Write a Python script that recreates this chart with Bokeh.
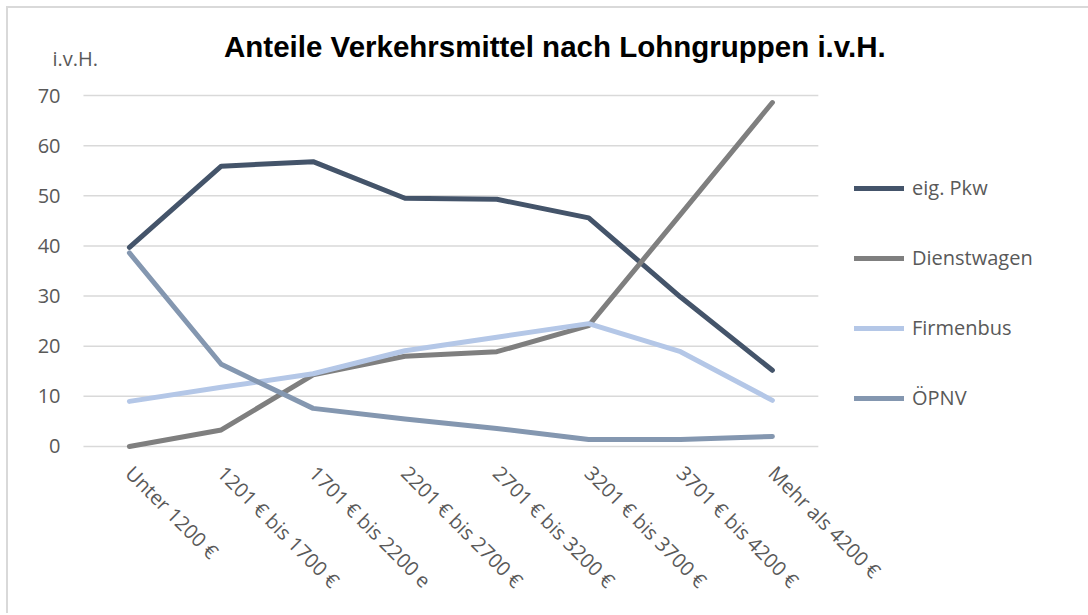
from bokeh.plotting import figure
from bokeh.models import Range1d, Legend, LegendItem, Label, FixedTicker
from bokeh.embed import file_html
from bokeh.resources import INLINE
import math

categories = ["Unter 1200 €", "1201 € bis 1700 €", "1701 € bis 2200 e", "2201 € bis 2700 €",
              "2701 € bis 3200 €", "3201 € bis 3700 €", "3701 € bis 4200 €", "Mehr als 4200 €"]
eig_pkw = [39.7, 55.9, 56.8, 49.5, 49.3, 45.6, 29.8, 15.2]
dienstwagen = [0.0, 3.3, 14.3, 18.0, 18.9, 24.1, 46.3, 68.6]
firmenbus = [9.0, 11.8, 14.5, 19.1, 21.8, 24.5, 18.9, 9.2]
oepnv = [38.6, 16.4, 7.6, 5.5, 3.6, 1.4, 1.4, 2.0]
series_names = ["eig. Pkw", "Dienstwagen", "Firmenbus", "ÖPNV"]
y_ticks = [0, 10, 20, 30, 40, 50, 60, 70]
title_text = "Anteile Verkehrsmittel nach Lohngruppen i.v.H."
unit_text = "i.v.H."

colors = ["#44546A", "#7F7F7F", "#B4C7E7", "#8497B0"]
FONT = "Open Sans"
TXT = "#595959"
GRID = "#D9D9D9"

xs = list(range(len(categories)))

p = figure(x_range=Range1d(-0.968, 10.30), y_range=Range1d(-1.4, 84.96),
           frame_width=1035, frame_height=433,
           min_border_left=32, min_border_right=13, min_border_top=12, min_border_bottom=160,
           output_backend="svg", toolbar_location=None, title=None)
p.outline_line_color = None
p.background_fill_color = "white"
p.border_fill_color = "white"

# horizontal grid lines only across the category area
p.xgrid.grid_line_color = None
p.ygrid.grid_line_color = None
p.segment(x0=[-0.5] * len(y_ticks), x1=[len(categories) - 0.5] * len(y_ticks),
          y0=y_ticks, y1=y_ticks, line_color=GRID, line_width=1.5)

p.yaxis.ticker = FixedTicker(ticks=y_ticks)
p.xaxis.ticker = FixedTicker(ticks=xs)
p.xaxis.major_label_overrides = {i: c for i, c in zip(xs, categories)}

for ax in (p.xaxis, p.yaxis):
    ax.axis_line_color = None
    ax.major_tick_line_color = None
    ax.minor_tick_line_color = None
    ax.major_tick_out = 0
    ax.major_tick_in = 0
    ax.major_label_text_font = FONT
    ax.major_label_text_font_size = "20px"
    ax.major_label_text_color = TXT

p.yaxis.major_label_standoff = -20
p.xaxis.major_label_orientation = -math.pi / 4
p.xaxis.major_label_standoff = 16

renderers = []
for name, ys, c in zip(series_names, [eig_pkw, dienstwagen, firmenbus, oepnv], colors):
    r = p.line(xs, ys, line_color=c, line_width=5, line_cap="round", line_join="round")
    renderers.append((name, r))

legend = Legend(items=[LegendItem(label=n, renderers=[r]) for n, r in renderers],
                location=(814, 42), orientation="vertical",
                glyph_width=50, glyph_height=20, label_height=20, spacing=43,
                label_standoff=8, padding=0, margin=0,
                border_line_color=None, background_fill_alpha=0,
                label_text_font=FONT, label_text_font_size="20px", label_text_color=TXT)
p.add_layout(legend, "center")

p.add_layout(Label(x=4.632, y=79.8, text=title_text, text_align="center",
                   text_baseline="alphabetic", text_font="Liberation Sans",
                   text_font_style="bold", text_font_size="29.5px", text_color="black"))
p.add_layout(Label(x=-0.837, y=77.3, text=unit_text, text_align="left",
                   text_baseline="middle", text_font=FONT,
                   text_font_size="20px", text_color=TXT))

p.styles = {"border-top": "2px solid #D9D9D9", "border-left": "2px solid #D9D9D9",
            "margin-top": "6px", "margin-left": "6px"}

open("out.html", "w").write(file_html(p, INLINE))
